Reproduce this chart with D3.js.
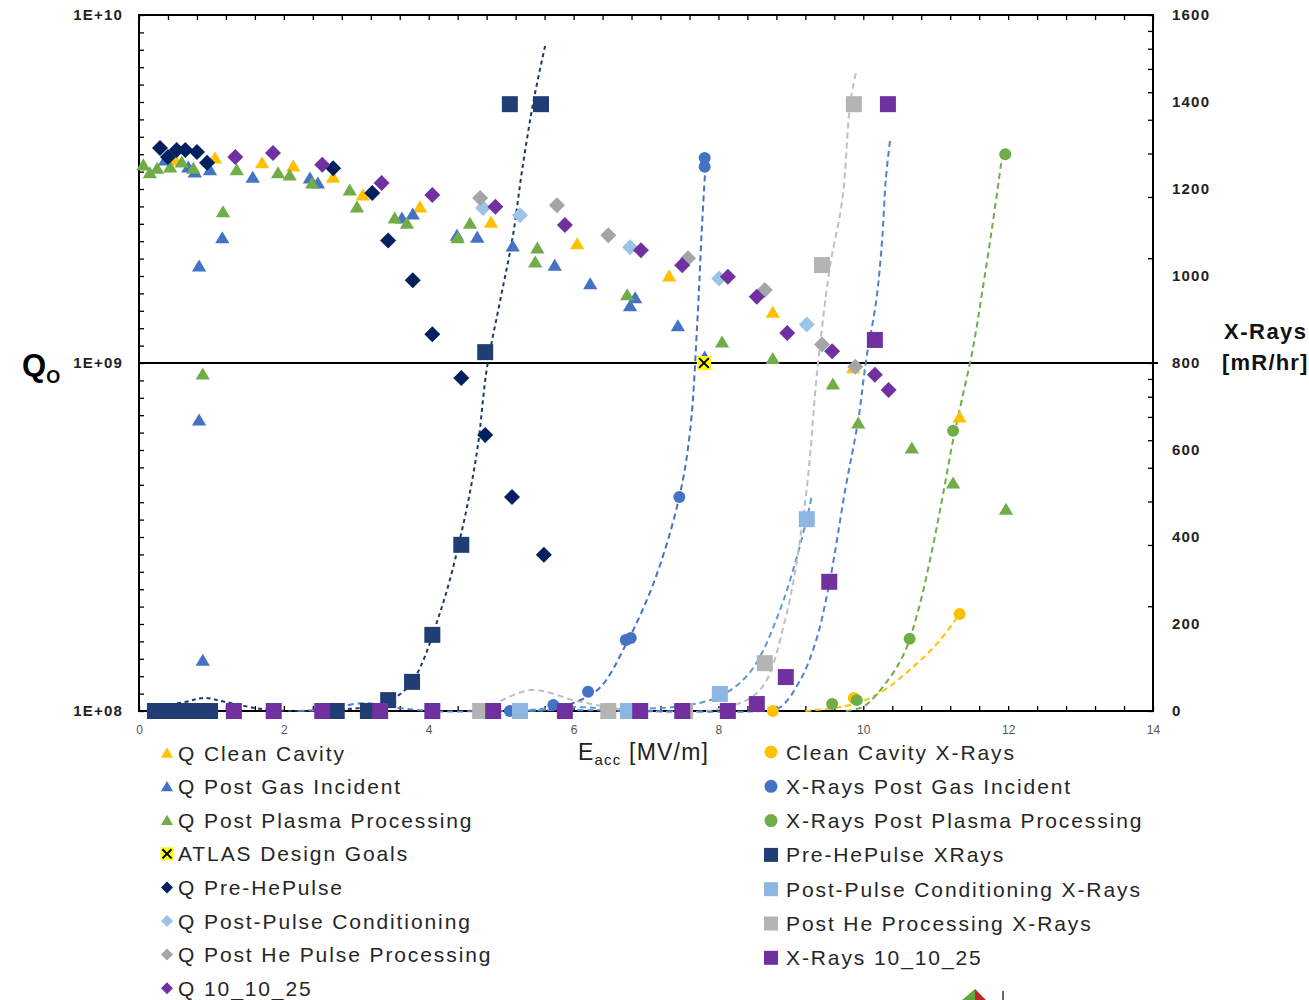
<!DOCTYPE html>
<html>
<head>
<meta charset="utf-8">
<title>Q and X-Rays vs Eacc</title>
<script src="https://cdnjs.cloudflare.com/ajax/libs/d3/7.8.5/d3.min.js"></script>
<style>
	body { margin: 0; background: #fff; }
	svg { font-family: "Liberation Sans", Arial, sans-serif; }
	.axis path.domain { display: none; }
	.axis line { stroke: #000; stroke-width: 1.3px; }
	.xlab text { font-size: 12px; fill: #555; }
	.ylab text { font-size: 15px; font-weight: bold; fill: #222; letter-spacing: 1.2px; }
	.legend text { font-size: 21px; fill: #262626; letter-spacing: 1.9px; }
	.trend { fill: none; stroke-width: 2px; }
</style>
</head>
<body>
<script>
// ---- Q values (left, log axis) : [Eacc MV/m, Q]
var qCleanCavity = [[0.50,3.83e9],[1.05,3.88e9],[1.70,3.76e9],[2.13,3.68e9],[2.68,3.42e9],[3.09,3.04e9],[3.88,2.81e9],[4.86,2.54e9],[6.05,2.20e9],[7.32,1.78e9],[8.75,1.40e9],[9.86,0.97e9],[11.33,0.70e9]];
var qPostGas = [[0.36,3.83e9],[0.68,3.66e9],[0.77,3.54e9],[0.83,1.90e9],[0.83,6.86e8],[0.88,1.40e8],[0.98,3.59e9],[1.15,2.29e9],[1.57,3.42e9],[2.36,3.40e9],[2.47,3.29e9],[3.63,2.61e9],[3.78,2.68e9],[4.39,2.33e9],[4.67,2.30e9],[5.16,2.17e9],[5.74,1.91e9],[6.23,1.69e9],[6.78,1.46e9],[6.85,1.54e9],[7.44,1.28e9],[7.81,1.04e9]];
var qPostPlasma = [[0.06,3.71e9],[0.15,3.52e9],[0.25,3.63e9],[0.43,3.66e9],[0.59,3.78e9],[0.75,3.63e9],[0.88,9.3e8],[1.16,2.72e9],[1.35,3.59e9],[1.92,3.52e9],[2.08,3.47e9],[2.39,3.29e9],[2.91,3.14e9],[3.01,2.81e9],[3.53,2.61e9],[3.70,2.52e9],[4.40,2.29e9],[4.57,2.52e9],[5.47,1.95e9],[5.50,2.14e9],[6.74,1.57e9],[8.05,1.15e9],[8.75,1.03e9],[9.58,8.7e8],[9.93,6.72e8],[10.67,5.70e8],[11.24,4.52e8],[11.97,3.80e8]];
var atlasGoal = [[7.80,1.0e9]];
var qPreHePulse = [[0.29,4.15e9],[0.40,3.91e9],[0.52,4.09e9],[0.64,4.09e9],[0.80,4.04e9],[0.94,3.76e9],[2.68,3.63e9],[3.22,3.08e9],[3.44,2.25e9],[3.78,1.73e9],[4.05,1.21e9],[4.45,9.06e8],[4.78,6.21e8],[5.15,4.12e8],[5.59,2.81e8]];
var qPostPulse = [[4.75,2.79e9],[5.26,2.66e9],[6.78,2.15e9],[8.01,1.75e9],[9.22,1.29e9]];
var qPostHe = [[4.71,2.98e9],[5.77,2.84e9],[6.48,2.33e9],[7.58,2.00e9],[8.64,1.62e9],[9.43,1.13e9],[9.89,9.75e8]];
var q101025 = [[1.33,3.91e9],[1.85,4.01e9],[2.53,3.71e9],[3.35,3.29e9],[4.05,3.04e9],[4.92,2.81e9],[5.88,2.49e9],[6.93,2.11e9],[7.50,1.91e9],[8.13,1.77e9],[8.53,1.55e9],[8.95,1.22e9],[9.57,1.08e9],[10.16,9.25e8],[10.35,8.36e8]];

// ---- X-ray values (right axis, mR/hr) : [Eacc, dose]
var xrClean = [[8.75,0],[9.87,30],[11.33,223]];
var xrCleanTrend = [[9.20,0],[9.82,14],[10.22,41],[10.66,97],[11.05,161],[11.33,223]];
var xrPostGas = [[5.12,0],[5.72,14],[6.20,44],[6.72,163],[6.79,168],[7.46,492],[7.81,1251],[7.81,1271]];
var xrPostGasTrend = [[5.12,0],[5.61,2],[5.99,18],[6.36,53],[6.72,152],[7.12,301],[7.46,492],[7.61,646],[7.71,899],[7.77,1106],[7.83,1278]];
var xrPostPlasma = [[9.57,16],[9.91,25],[10.64,166],[11.24,644],[11.96,1280]];
var xrPostPlasmaTrend = [[9.76,0],[10.01,11],[10.31,64],[10.56,131],[10.76,232],[10.95,370],[11.10,497],[11.24,623],[11.36,715],[11.51,830],[11.64,961],[11.78,1113],[11.91,1267]];
var xrPreHe = [[0.22,0],[0.33,0],[0.44,0],[0.55,0],[0.66,0],[0.77,0],[0.88,0],[0.98,0],[2.73,0],[3.16,0],[3.44,25],[3.77,67],[4.05,175],[4.45,382],[4.78,825],[5.12,1395],[5.55,1395]];
var xrPreHeTrend = [[0.22,9],[0.64,21],[0.91,30],[1.19,21],[1.67,5],[2.08,0],[2.64,2],[3.12,9],[3.47,25],[3.77,67],[4.16,228],[4.46,416],[4.67,600],[4.80,784],[4.98,938],[5.16,1090],[5.29,1244],[5.45,1405],[5.61,1531]];
var xrPostPulse = [[5.26,0],[6.75,0],[8.02,39],[9.22,441]];
var xrPostPulseTrend = [[5.26,0],[5.95,9],[6.64,5],[7.47,11],[8.02,34],[8.44,90],[8.85,232],[9.22,441],[9.29,497]];
var xrPostHe = [[4.71,0],[6.48,0],[7.54,0],[8.64,110],[9.43,1025],[9.87,1395]];
var xrPostHeTrend = [[4.75,0],[5.40,48],[6.09,21],[6.92,0],[8.02,5],[8.57,48],[8.92,209],[9.20,485],[9.37,791],[9.54,1021],[9.71,1175],[9.82,1398],[9.90,1469]];
var xr101025 = [[1.31,0],[1.86,0],[2.53,0],[3.33,0],[4.05,0],[4.89,0],[5.88,0],[6.92,0],[7.50,0],[8.13,0],[8.53,16],[8.93,78],[9.53,297],[10.16,853],[10.34,1395]];
var xr101025Trend = [[2.20,0],[2.60,4],[3.09,18],[3.60,7],[4.02,0],[5.0,0],[6.0,2],[7.0,0],[8.57,0],[8.84,7],[9.13,71],[9.35,163],[9.54,301],[9.75,508],[9.93,669],[10.04,807],[10.18,945],[10.26,1083],[10.31,1221],[10.37,1313]];

// ---- axes
var xTicks = [0,2,4,6,8,10,12,14];
var qTicks = [1e8,1e9,1e10];
var xrTicks = [0,200,400,600,800,1000,1200,1400,1600];

var series = [
	{name:"Q Clean Cavity", data:qCleanCavity, axis:"q", shape:"tri", color:"#FFC000"},
	{name:"Q Post Gas Incident", data:qPostGas, axis:"q", shape:"tri", color:"#4472C4"},
	{name:"Q Post Plasma Processing", data:qPostPlasma, axis:"q", shape:"tri", color:"#70AD47"},
	{name:"ATLAS Design Goals", data:atlasGoal, axis:"q", shape:"x", color:"#FFFF00"},
	{name:"Q Pre-HePulse", data:qPreHePulse, axis:"q", shape:"dia", color:"#002060"},
	{name:"Q Post-Pulse Conditioning", data:qPostPulse, axis:"q", shape:"dia", color:"#9DC3E6"},
	{name:"Q Post He Pulse Processing", data:qPostHe, axis:"q", shape:"dia", color:"#A5A5A5"},
	{name:"Q 10_10_25", data:q101025, axis:"q", shape:"dia", color:"#7030A0"},
	{name:"Clean Cavity X-Rays", data:xrClean, trend:xrCleanTrend, trendColor:"#FFC000", axis:"x", shape:"cir", color:"#FFC000"},
	{name:"X-Rays Post Gas Incident", data:xrPostGas, trend:xrPostGasTrend, trendColor:"#4472C4", axis:"x", shape:"cir", color:"#4472C4"},
	{name:"X-Rays Post Plasma Processing", data:xrPostPlasma, trend:xrPostPlasmaTrend, trendColor:"#70AD47", axis:"x", shape:"cir", color:"#70AD47"},
	{name:"Pre-HePulse XRays", data:xrPreHe, trend:xrPreHeTrend, trendColor:"#203864", axis:"x", shape:"sq", color:"#203E74"},
	{name:"Post-Pulse Conditioning X-Rays", data:xrPostPulse, trend:xrPostPulseTrend, trendColor:"#5B9BD5", axis:"x", shape:"sq", color:"#8DB6E2"},
	{name:"Post He Processing X-Rays", data:xrPostHe, trend:xrPostHeTrend, trendColor:"#BFBFBF", axis:"x", shape:"sq", color:"#B4B4B4"},
	{name:"X-Rays 10_10_25", data:xr101025, trend:xr101025Trend, trendColor:"#4F81D0", axis:"x", shape:"sq", color:"#7030A0"}
];

var L = 139, R = 1153, T = 15, B = 711;

var x = d3.scaleLinear().domain([0,14]).range([L,R]);
var yQ = d3.scaleLog().domain([1e8,1e10]).range([B,T]);
var yX = d3.scaleLinear().domain([0,1600]).range([B,T]);

var svg = d3.select("body").append("svg")
	.attr("width", 1309)
	.attr("height", 1000);

function markerPath(shape, s) {
	if (shape === "tri") return "M0," + (-s) + "L" + (s*1.1) + "," + (s*0.85) + "L" + (-s*1.1) + "," + (s*0.85) + "Z";
	if (shape === "dia") return "M0," + (-s) + "L" + s + ",0L0," + s + "L" + (-s) + ",0Z";
	if (shape === "sq" || shape === "x") return "M" + (-s) + "," + (-s) + "H" + s + "V" + s + "H" + (-s) + "Z";
	return d3.symbol(d3.symbolCircle, Math.PI * s * s)();
}

function drawMarker(g, shape, color, s) {
	g.append("path").attr("d", markerPath(shape, s)).attr("fill", color);
	if (shape === "x") {
		g.append("path")
			.attr("d", "M" + (-s*0.7) + "," + (-s*0.7) + "L" + (s*0.7) + "," + (s*0.7) + "M" + (s*0.7) + "," + (-s*0.7) + "L" + (-s*0.7) + "," + (s*0.7))
			.attr("stroke", "#000").attr("stroke-width", 2);
	}
}

var markerSize = {tri: 6.5, dia: 8, sq: 8, cir: 6, x: 7};

// ticks
svg.append("g").attr("class", "axis")
	.attr("transform", "translate(0," + B + ")")
	.call(d3.axisBottom(x).tickValues(d3.range(0, 14.01, 0.4)).tickSize(-5).tickFormat(""));
svg.append("g").attr("class", "axis")
	.attr("transform", "translate(0," + T + ")")
	.call(d3.axisTop(x).tickValues(d3.range(0, 14.01, 0.4)).tickSize(-5).tickFormat(""));
svg.append("g").attr("class", "axis")
	.attr("transform", "translate(" + L + ",0)")
	.call(d3.axisLeft(yX).tickValues(d3.range(0, 1601, 40)).tickSize(-5).tickFormat(""));
var logMinor = [];
[1e8, 1e9].forEach(function(d) { for (var k = 1; k < 10; k++) logMinor.push(d * k); });
logMinor.push(1e10);
svg.append("g").attr("class", "axis")
	.attr("transform", "translate(" + R + ",0)")
	.call(d3.axisRight(yQ).tickValues(logMinor).tickSize(-5).tickFormat(""));

// tick labels
svg.append("g").attr("class", "axis xlab")
	.attr("transform", "translate(0," + B + ")")
	.call(d3.axisBottom(x).tickValues(xTicks).tickSize(0).tickPadding(14));
svg.append("g").attr("class", "axis ylab")
	.attr("transform", "translate(" + L + ",0)")
	.call(d3.axisLeft(yQ).tickValues(qTicks).tickSize(0).tickPadding(16)
		.tickFormat(function(d) { return "1E+" + String(Math.round(Math.log10(d))).padStart(2, "0"); }));
svg.append("g").attr("class", "axis ylab")
	.attr("transform", "translate(" + R + ",0)")
	.call(d3.axisRight(yX).tickValues(xrTicks).tickSize(0).tickPadding(19).tickFormat(d3.format("d")));

// frame and 1E+09 line
svg.append("rect")
	.attr("x", L).attr("y", T).attr("width", R - L).attr("height", B - T)
	.attr("fill", "none").attr("stroke", "#000").attr("stroke-width", 2);
svg.append("line")
	.attr("x1", L).attr("x2", R + 5)
	.attr("y1", yQ(1e9)).attr("y2", yQ(1e9))
	.attr("stroke", "#000").attr("stroke-width", 2);

// trendlines
var trendLine = d3.line()
	.x(function(d) { return x(d[0]); })
	.y(function(d) { return yX(d[1]); })
	.curve(d3.curveCatmullRom);

series.forEach(function(s) {
	if (!s.trend) return;
	svg.append("path")
		.attr("class", "trend")
		.attr("d", trendLine(s.trend))
		.attr("stroke", s.trendColor)
		.attr("stroke-dasharray", s.trendColor === "#203864" ? "4,3.5" : "6,4");
});

// markers
series.forEach(function(s) {
	var yS = s.axis === "q" ? yQ : yX;
	s.data.forEach(function(d) {
		var g = svg.append("g").attr("transform", "translate(" + x(d[0]) + "," + yS(d[1]) + ")");
		drawMarker(g, s.shape, s.color, markerSize[s.shape]);
	});
});

// axis titles
var qt = svg.append("text").attr("x", 22).attr("y", 376)
	.attr("font-size", 31).attr("font-weight", "bold").attr("fill", "#000");
qt.append("tspan").text("Q");
qt.append("tspan").attr("font-size", 18).attr("dy", 7).text("O");

svg.append("text").attr("x", 1224).attr("y", 339)
	.attr("font-size", 22).attr("font-weight", "bold").attr("letter-spacing", 1.5).attr("fill", "#111")
	.text("X-Rays");
svg.append("text").attr("x", 1222).attr("y", 370)
	.attr("font-size", 22).attr("font-weight", "bold").attr("letter-spacing", 1.2).attr("fill", "#111")
	.text("[mR/hr]");

var xt = svg.append("text").attr("x", 578).attr("y", 760)
	.attr("font-size", 23).attr("letter-spacing", 1.2).attr("fill", "#222");
xt.append("tspan").text("E");
xt.append("tspan").attr("font-size", 15).attr("dy", 5).text("acc");
xt.append("tspan").attr("dy", -5).text(" [MV/m]");

// legend
var legend = svg.append("g").attr("class", "legend");
series.forEach(function(s, i) {
	var left = i < 8;
	var row = left ? i : i - 8;
	var cy = left ? 753 + row * 33.6 : 752 + row * 34.3;
	var mx = left ? 167 : 771;
	var tx = left ? 178 : 786;
	var sz = {tri: 5.5, dia: 6, sq: 7, cir: 6.5, x: 6.5}[s.shape];
	var g = legend.append("g").attr("transform", "translate(" + mx + "," + cy + ")");
	drawMarker(g, s.shape, s.color, sz);
	legend.append("text").attr("x", tx).attr("y", cy + 7.5).text(s.name);
});

// cropped logo remnant at the bottom edge
svg.append("path").attr("d", "M962,1000L975,989L975,1000Z").attr("fill", "#5FA83A");
svg.append("path").attr("d", "M975,989L986,1000L975,1000Z").attr("fill", "#C0272D");
svg.append("line").attr("x1", 1003).attr("x2", 1003).attr("y1", 991).attr("y2", 1000)
	.attr("stroke", "#000").attr("stroke-width", 1.2);
</script>
</body>
</html>
